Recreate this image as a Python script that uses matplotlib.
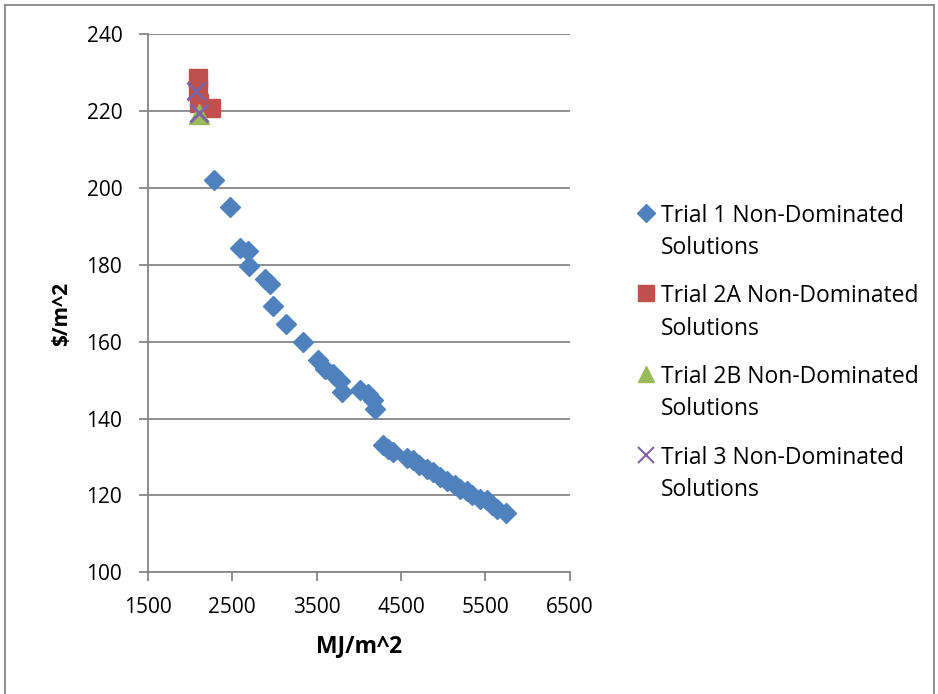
import matplotlib
matplotlib.use("Agg")
import matplotlib.pyplot as plt
from matplotlib.lines import Line2D

plt.rcParams['font.family'] = ['Open Sans', 'DejaVu Sans']

# Energy (MJ/m^2) and cost ($/m^2) of the non-dominated solutions per trial
trial1_energy = [2280, 2472, 2595, 2685, 2700, 2885, 2945, 2982, 3140, 3335,
                 3520, 3600, 3695, 3777, 3797, 4013, 4105, 4165, 4193, 4290,
                 4350, 4405, 4575, 4640, 4712, 4808, 4880, 4962, 5045, 5140,
                 5200, 5282, 5342, 5438, 5520, 5580, 5640, 5750]
trial1_cost = [202.2, 195.0, 184.5, 183.6, 179.8, 176.2, 175.1, 169.4, 164.6, 160.0,
               155.2, 153.0, 151.5, 149.8, 146.9, 147.4, 146.5, 144.8, 142.5, 133.2,
               132.2, 131.4, 129.7, 129.1, 127.9, 126.8, 126.1, 124.7, 123.8, 122.8,
               121.7, 121.1, 120.1, 119.2, 118.7, 117.5, 116.4, 115.4]

trial2a_energy = [2097, 2097, 2100, 2253]
trial2a_cost = [228.6, 225.5, 222.1, 220.8]

trial2b_energy = [2108]
trial2b_cost = [219.3]

trial3_energy = [2069, 2108]
trial3_cost = [225.3, 219.6]

series_labels = ["Trial 1 Non-Dominated\nSolutions",
                 "Trial 2A Non-Dominated\nSolutions",
                 "Trial 2B Non-Dominated\nSolutions",
                 "Trial 3 Non-Dominated\nSolutions"]

x_ticks = [1500, 2500, 3500, 4500, 5500, 6500]
y_ticks = [100, 120, 140, 160, 180, 200, 220, 240]

BLUE, RED, GREEN, PURPLE = "#4F81BD", "#C0504D", "#9BBB59", "#8064A2"
GRID = "#868686"

W, H = 938, 694
fig = plt.figure(figsize=(W / 100, H / 100), dpi=100)
ax = fig.add_axes([148 / W, 1 - 572.3 / H, (569.5 - 148) / W, (572.3 - 34.3) / H])

ax.plot(trial1_energy, trial1_cost, linestyle="none", marker="D", ms=10.5,
        color=BLUE, mec=BLUE, zorder=3)
ax.plot(trial2a_energy, trial2a_cost, linestyle="none", marker="s", ms=13,
        color=RED, mec=RED, zorder=4)
ax.plot(trial2b_energy, trial2b_cost, linestyle="none", marker="^", ms=14,
        color=GREEN, mec=GREEN, zorder=5)
ax.plot(trial3_energy, trial3_cost, linestyle="none", marker="x", ms=13,
        mew=2.2, color=PURPLE, zorder=6)

ax.set_xlim(x_ticks[0], x_ticks[-1])
ax.set_ylim(y_ticks[0], y_ticks[-1])
ax.set_xticks(x_ticks)
ax.set_yticks(y_ticks)
ax.tick_params(axis="both", direction="out", length=6.5, width=1.3, color=GRID,
               labelsize=15, pad=12)
ax.tick_params(axis="x", pad=11)
ax.grid(axis="y", color=GRID, linewidth=1.3)
ax.set_axisbelow(True)
for side in ("top", "right"):
    ax.spines[side].set_visible(False)
for side in ("left", "bottom"):
    ax.spines[side].set_color(GRID)
    ax.spines[side].set_linewidth(1.3)

fig.text(358.7 / W, 1 - 646 / H, "MJ/m^2", ha="center", va="center",
         fontsize=16.5, fontweight="bold")
fig.text(62 / W, 1 - 314 / H, r"\$/m^2", ha="center", va="center",
         rotation=90, fontsize=15, fontweight="bold")

# legend drawn in figure coordinates
legend_styles = [dict(marker="D", ms=9, color=BLUE, mec=BLUE),
                 dict(marker="s", ms=11, color=RED, mec=RED),
                 dict(marker="^", ms=12, color=GREEN, mec=GREEN),
                 dict(marker="x", ms=11, mew=1.5, color=PURPLE)]
for i, (label, style) in enumerate(zip(series_labels, legend_styles)):
    y0 = 213 + i * 80.5
    fig.add_artist(Line2D([646 / W], [1 - y0 / H], linestyle="none",
                          transform=fig.transFigure, **style))
    for j, line in enumerate(label.split("\n")):
        fig.text(661 / W, 1 - (y0 + 32 * j) / H, line, ha="left",
                 va="center_baseline", fontsize=16.5)

# chart frame
fig.add_artist(Line2D([5 / W, 5 / W], [0, 1 - 5 / H], color=GRID, lw=1.3,
                      transform=fig.transFigure))
fig.add_artist(Line2D([5 / W, 934 / W], [1 - 5 / H, 1 - 5 / H], color=GRID,
                      lw=1.3, transform=fig.transFigure))
fig.add_artist(Line2D([934 / W, 934 / W], [0, 1 - 5 / H], color=GRID, lw=1.3,
                      transform=fig.transFigure))

fig.savefig("out.png", dpi=100)
